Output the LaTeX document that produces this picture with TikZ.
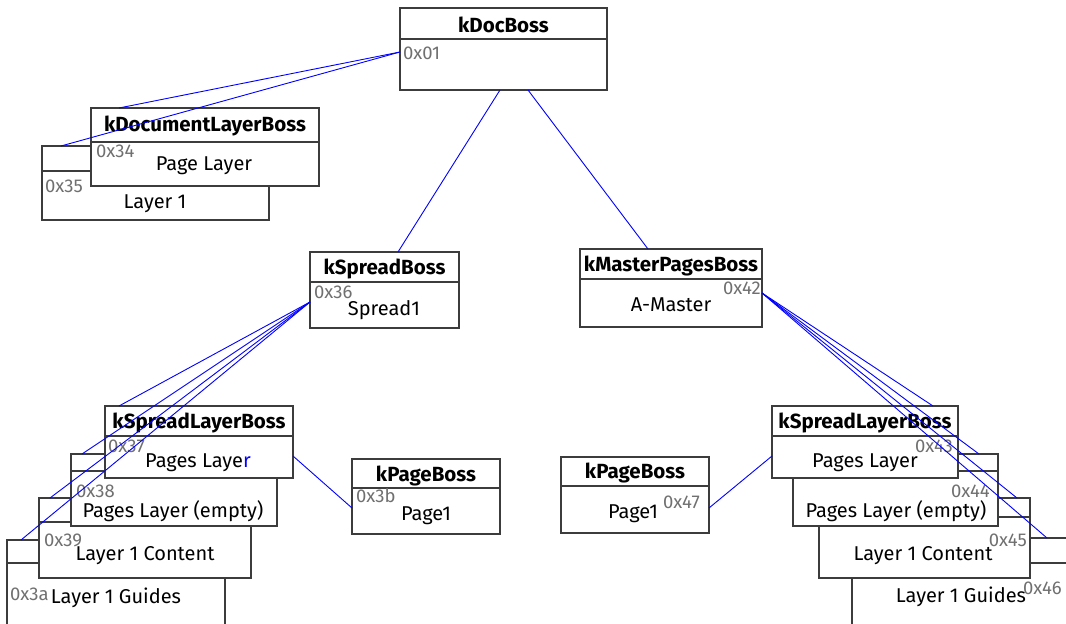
\documentclass[tikz,border=0pt]{standalone}
\usepackage{fontspec}
\setmainfont{Fira Sans}
\definecolor{boxgray}{RGB}{60,60,60}
\definecolor{idgray}{RGB}{112,112,112}
\definecolor{linkblue}{RGB}{0,0,255}
% an object box: name, x, y (top left), width, height, header height
\newcommand\objbox[6]{%
  \node[box, minimum width=#4pt, minimum height=#5pt] (#1) at (#2,#3) {};
  \draw[boxrule] ([yshift=-#6pt]#1.north west) -- ([yshift=-#6pt]#1.north east);
}
\begin{document}
\begin{tikzpicture}[x=1pt,y=-1pt,
  box/.style={draw=boxgray, fill=white, line width=1.1pt, anchor=north west, inner sep=0pt, outer sep=0pt},
  boxrule/.style={draw=boxgray, line width=1.1pt},
  title/.style={font=\fontsize{20.5}{22}\selectfont\bfseries, anchor=base, inner sep=0pt},
  body/.style={font=\fontsize{20}{22}\selectfont, anchor=base, inner sep=0pt},
  oid/.style={font=\fontsize{18.5}{20}\selectfont, text=idgray, inner sep=0pt},
  link/.style={draw=linkblue, line width=0.9pt},
]
\useasboundingbox (0,0) rectangle (1066,624);
\clip (0,0) rectangle (1066,624);

% ---- root
\objbox{docboss}{400}{8}{207}{82}{31}
\node[title] (docboss-t) at (503.5,32) {kDocBoss};
\node[oid, anchor=base west] (docboss-id) at (403,59) {0x01};

% ---- document layers
\objbox{dlback}{42}{146}{227}{74}{25}
\node[oid, anchor=base west] (dlback-id) at (45,192) {0x35};
\node[body] (dlback-b) at (155,208) {Layer 1};
\objbox{dlfront}{91}{108}{228}{78}{34}
\node[title] (dlfront-t) at (205,131) {kDocumentLayerBoss};
\node[oid, anchor=base west] (dlfront-id) at (96,157) {0x34};
\node[body] (dlfront-b) at (204,170) {Page Layer};

% ---- spread and master
\objbox{spread}{310}{252}{149}{76}{30}
\node[title] (spread-t) at (384.5,274) {kSpreadBoss};
\node[oid, anchor=base west] (spread-id) at (314,298) {0x36};
\node[body] (spread-b) at (384,315) {Spread1};

\objbox{master}{580}{249}{182}{78}{30}
\node[title] (master-t) at (671,271) {kMasterPagesBoss};
\node[oid, anchor=base east] (master-id) at (761,294) {0x42};
\node[body] (master-b) at (671,311) {A-Master};

% ---- spread layers (left stack, back to front)
\objbox{sl4}{7}{540}{218}{200}{23}
\node[oid, anchor=base west] (sl4-id) at (10,600) {0x3a};
\node[body] (sl4-b) at (116,603) {Layer 1 Guides};
\objbox{sl3}{39}{498}{212}{80}{24}
\node[oid, anchor=base west] (sl3-id) at (44,546) {0x39};
\node[body] (sl3-b) at (145,560) {Layer 1 Content};
\objbox{sl2}{71}{454}{206}{72}{17}
\node[oid, anchor=base west] (sl2-id) at (76,497) {0x38};
\node[body] (sl2-b) at (173,517) {Pages Layer (empty)};
\objbox{sl1}{105}{406}{188}{72}{30}
\node[title] (sl1-t) at (199,428) {kSpreadLayerBoss};
\node[oid, anchor=base west] (sl1-id) at (108,452) {0x37};
\node[body] (sl1-b) at (198,467) {Pages Laye\textcolor{linkblue}{r}};

\objbox{pgl}{352}{459}{148}{75}{29}
\node[title] (pgl-t) at (426,481) {kPageBoss};
\node[oid, anchor=base west] (pgl-id) at (356,502) {0x3b};
\node[body] (pgl-b) at (426,520) {Page1};

% ---- master spread layers (right stack, back to front)
\objbox{ml4}{852}{538}{300}{200}{25}
\node[body] (ml4-b) at (961,602) {Layer 1 Guides};
\node[oid, anchor=base west] (ml4-id) at (1023,594) {0x46};
\objbox{ml3}{819}{498}{211}{80}{19}
\node[oid, anchor=base east] (ml3-id) at (1027,546) {0x45};
\node[body] (ml3-b) at (923,560) {Layer 1 Content};
\objbox{ml2}{793}{454}{205}{72}{17}
\node[oid, anchor=base east] (ml2-id) at (990,497) {0x44};
\node[body] (ml2-b) at (896,517) {Pages Layer (empty)};
\objbox{ml1}{772}{406}{186}{72}{30}
\node[title] (ml1-t) at (865,428) {kSpreadLayerBoss};
\node[oid, anchor=base east] (ml1-id) at (953,452) {0x43};
\node[body] (ml1-b) at (865,467) {Pages Layer};

\objbox{pgr}{561}{457}{148}{76}{29}
\node[title] (pgr-t) at (635,478) {kPageBoss};
\node[body] (pgr-b) at (633,518) {Page1};
\node[oid, anchor=base west] (pgr-id) at (663,508) {0x47};

% ---- connectors
\coordinate (docboss-l) at ([yshift=-44pt]docboss.north west);
\draw[link] (docboss-l) -- ([xshift=28pt]dlfront.north west);
\draw[link] (docboss-l) -- ([xshift=19pt]dlback.north west);
\draw[link] ([xshift=100pt]docboss.south west) -- ([xshift=88pt]spread.north west);
\draw[link] ([xshift=128pt]docboss.south west) -- ([xshift=68pt]master.north west);

\coordinate (spread-l) at ([yshift=-50pt]spread.north west);
\draw[link] (spread-l) -- ([xshift=14pt]sl1.north west);
\draw[link] (spread-l) -- ([xshift=11pt]sl2.north west);
\draw[link] (spread-l) -- ([xshift=11pt]sl3.north west);
\draw[link] (spread-l) -- ([xshift=14pt]sl4.north west);
\draw[link] ([yshift=-50pt]sl1.north east) -- ([yshift=-49pt]pgl.north west);

\coordinate (master-r) at ([yshift=-44pt]master.north east);
\draw[link] (master-r) -- ([xshift=161pt]ml1.north west);
\draw[link] (master-r) -- ([xshift=186pt]ml2.north west);
\draw[link] (master-r) -- ([xshift=198pt]ml3.north west);
\draw[link] (master-r) -- ([xshift=195pt]ml4.north west);
\draw[link] ([yshift=-51pt]pgr.north east) -- ([yshift=-50pt]ml1.north west);
\end{tikzpicture}
\end{document}
